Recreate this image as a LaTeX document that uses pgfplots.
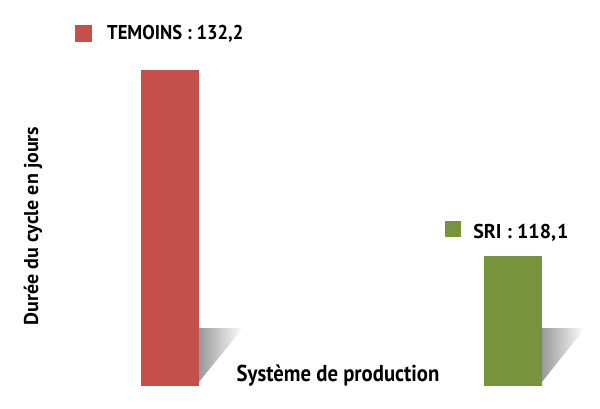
\documentclass[border=0pt]{standalone}
\usepackage{fontspec}
\setmainfont{PT Sans}
\newfontfamily\condfont[FakeStretch=0.9]{PT Sans}
\newfontfamily\tfont[FakeStretch=0.93]{PT Sans}
\usepackage{pgfplots}
\pgfplotsset{compat=1.18}
\definecolor{barred}{HTML}{C5504B}
\definecolor{bargreen}{HTML}{77933C}
\begin{document}
\begin{tikzpicture}
\path[use as bounding box] (0pt,-22pt) rectangle (600pt,386pt);
\begin{axis}[
  at={(0,0)}, anchor=south west,
  scale only axis, width=600pt, height=386pt,
  xmin=-0.4956, xmax=1.2536,
  ymin=108.245, ymax=137.507,
  axis lines=none, ticks=none,
  clip=false,
  ybar, bar shift=0pt, bar width=58pt,
]
\shade[left color=black!40, right color=white]
  (axis cs:0.0845,108.55) -- (axis cs:0.0845,112.64) -- (axis cs:0.2128,112.64) -- cycle;
\shade[left color=black!40, right color=white]
  (axis cs:1.0845,108.55) -- (axis cs:1.0845,112.64) -- (axis cs:1.2099,112.64) -- cycle;
\addplot[fill=barred, draw=none] coordinates {(0,132.2)};
\addplot[fill=bargreen, draw=none] coordinates {(1,118.1)};
\node[fill=barred, minimum size=17pt, inner sep=0pt] at (axis cs:-0.2536,134.93) {};
\node[anchor=base west, inner sep=0pt, font=\tfont\fontsize{20}{24}\selectfont\bfseries] at (axis cs:-0.1837,134.55) {TEMOINS : 132,2};
\node[fill=bargreen, minimum size=16pt, inner sep=0pt] at (axis cs:0.8251,120.11) {};
\node[anchor=base west, inner sep=0pt, font=\fontsize{20}{24}\selectfont\bfseries] at (axis cs:0.8835,119.46) {SRI : 118,\kern1pt 1};
\node[anchor=base, inner sep=0pt, font=\condfont\fontsize{23}{27}\selectfont\bfseries] at (axis cs:0.4898,108.62) {Système de production};
\node[rotate=90, inner sep=0pt, font=\fontsize{20}{24}\selectfont\bfseries] at (axis cs:-0.3994,120.38) {Durée du cycle en jours};
\end{axis}
\end{tikzpicture}
\end{document}
